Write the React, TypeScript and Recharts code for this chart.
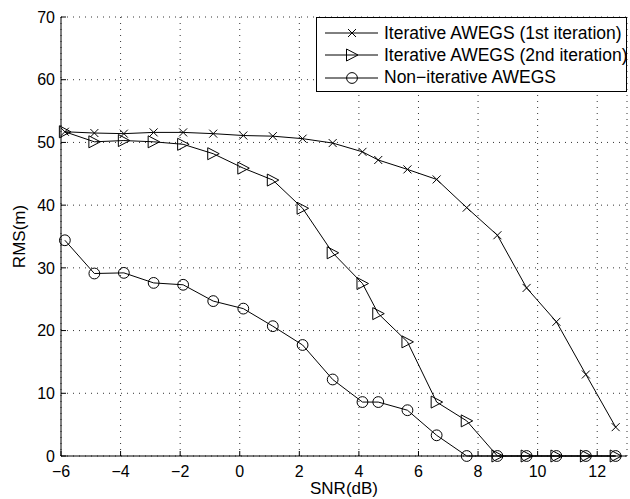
import { CartesianGrid, Legend, Line, LineChart, XAxis, YAxis } from "recharts";

const snr = [-5.87, -4.88, -3.89, -2.89, -1.9, -0.89, 0.12, 1.11, 2.11, 3.12, 4.12, 4.65, 5.63, 6.61, 7.62, 8.65, 9.63, 10.63, 11.62, 12.62];
const iter1 = [51.7, 51.5, 51.4, 51.6, 51.6, 51.4, 51.1, 51.0, 50.6, 49.9, 48.5, 47.2, 45.7, 44.1, 39.6, 35.2, 26.8, 21.4, 13.0, 4.6];
const iter2 = [51.7, 50.1, 50.3, 50.1, 49.7, 48.2, 45.9, 44.0, 39.5, 32.4, 27.5, 22.7, 18.2, 8.6, 5.6, 0, 0, 0, 0, 0];
const nonIter = [34.4, 29.1, 29.2, 27.6, 27.3, 24.7, 23.5, 20.7, 17.7, 12.2, 8.6, 8.6, 7.3, 3.3, 0, 0, 0, 0, 0, 0];

const xTicks = [-6, -4, -2, 0, 2, 4, 6, 8, 10, 12];
const yTicks = [0, 10, 20, 30, 40, 50, 60, 70];

const seriesNames = [
  "Iterative AWEGS (1st iteration)",
  "Iterative AWEGS (2nd iteration)",
  "Non\u2212iterative AWEGS",
];

const rows = snr.map((x, i) => ({ x, a: iter1[i], b: iter2[i], c: nonIter[i] }));

const FONT = '"Liberation Sans", Arial, Helvetica, sans-serif';

function cross(cx: number, cy: number, key?: string) {
  return (
    <path
      key={key}
      d={`M${cx - 4},${cy - 4}L${cx + 4},${cy + 4}M${cx - 4},${cy + 4}L${cx + 4},${cy - 4}`}
      stroke="#000"
      strokeWidth={1}
      fill="none"
    />
  );
}

function tri(cx: number, cy: number, key?: string) {
  return (
    <path
      key={key}
      d={`M${cx - 5.5},${cy - 6}L${cx + 6},${cy}L${cx - 5.5},${cy + 6}Z`}
      stroke="#000"
      strokeWidth={1}
      fill="none"
    />
  );
}

function circ(cx: number, cy: number, key?: string) {
  return <circle key={key} cx={cx} cy={cy} r={5.4} stroke="#000" strokeWidth={1} fill="none" />;
}

const markers = [cross, tri, circ];

const dot = (fn: typeof cross) => (p: any) => {
  if (p.cx == null || p.cy == null) return <g key={p.key} />;
  return fn(p.cx, p.cy, p.key);
};

function LegendBox() {
  return (
    <div
      style={{
        border: "1px solid #000",
        background: "#fff",
        boxSizing: "border-box",
        height: 75,
        paddingTop: 4,
        fontFamily: FONT,
        fontSize: 17.5,
        color: "#000",
      }}
    >
      {seriesNames.map((name, i) => (
        <div key={name} style={{ display: "flex", alignItems: "center", height: 22.3 }}>
          <svg width={67} height={20} style={{ flex: "none" }}>
            <line x1={8} y1={10} x2={61} y2={10} stroke="#000" strokeWidth={1} />
            {i === 0 ? cross(35, 10) : i === 1 ? tri(35, 10) : circ(35, 10)}
          </svg>
          <span style={{ whiteSpace: "nowrap" }}>{name}</span>
        </div>
      ))}
    </div>
  );
}

export default function App() {
  return (
    <div style={{ position: "absolute", left: 0, top: 0, width: 630, height: 499, background: "#fff" }}>
      <LineChart width={630} height={499} data={rows} margin={{ top: 17, right: 3, left: 0, bottom: 0 }}>
        <CartesianGrid stroke="#333" strokeDasharray="1 5" />
        <XAxis
          dataKey="x"
          type="number"
          domain={[-6, 13]}
          ticks={xTicks}
          height={43}
          tickSize={-5}
          tickMargin={15}
          tickFormatter={(v: number) => (v < 0 ? `\u2212${Math.abs(v)}` : `${v}`)}
          axisLine={{ stroke: "#000" }}
          tickLine={{ stroke: "#000" }}
          tick={{ fill: "#000", fontSize: 16, fontFamily: FONT }}
          label={(props: any) => {
            const vb = props.viewBox;
            return (
              <text
                x={vb.x + vb.width / 2}
                y={vb.y + 38}
                textAnchor="middle"
                fontSize={17}
                fontFamily={FONT}
                fill="#000"
              >
                SNR(dB)
              </text>
            );
          }}
        />
        <XAxis
          xAxisId="top"
          orientation="top"
          type="number"
          domain={[-6, 13]}
          ticks={xTicks}
          height={0}
          tickSize={-5}
          tickFormatter={() => ""}
          axisLine={{ stroke: "#000" }}
          tickLine={{ stroke: "#000" }}
        />
        <YAxis
          type="number"
          domain={[0, 70]}
          ticks={yTicks}
          width={61}
          tickSize={-5}
          tickMargin={11}
          axisLine={{ stroke: "#000" }}
          tickLine={{ stroke: "#000" }}
          tick={{ fill: "#000", fontSize: 16, fontFamily: FONT }}
          label={(props: any) => {
            const vb = props.viewBox;
            const cx = 19;
            const cy = vb.y + vb.height / 2;
            return (
              <text
                x={cx}
                y={cy}
                transform={`rotate(-90, ${cx}, ${cy})`}
                textAnchor="middle"
                dominantBaseline="central"
                fontSize={17}
                fontFamily={FONT}
                fill="#000"
              >
                RMS(m)
              </text>
            );
          }}
        />
        <YAxis
          yAxisId="right"
          orientation="right"
          type="number"
          domain={[0, 70]}
          ticks={yTicks}
          width={0}
          tickSize={-5}
          tickFormatter={() => ""}
          axisLine={{ stroke: "#000" }}
          tickLine={{ stroke: "#000" }}
        />
        <Legend
          layout="horizontal"
          verticalAlign="middle"
          align="center"
          content={() => <LegendBox />}
          wrapperStyle={{ position: "absolute", top: 17, left: 316, width: 311, height: 75 }}
        />
        {(["a", "b", "c"] as const).map((k, i) => (
          <Line
            key={k}
            dataKey={k}
            name={seriesNames[i]}
            stroke="#000"
            strokeWidth={1}
            dot={dot(markers[i])}
            activeDot={false}
            isAnimationActive={false}
          />
        ))}
      </LineChart>
    </div>
  );
}
